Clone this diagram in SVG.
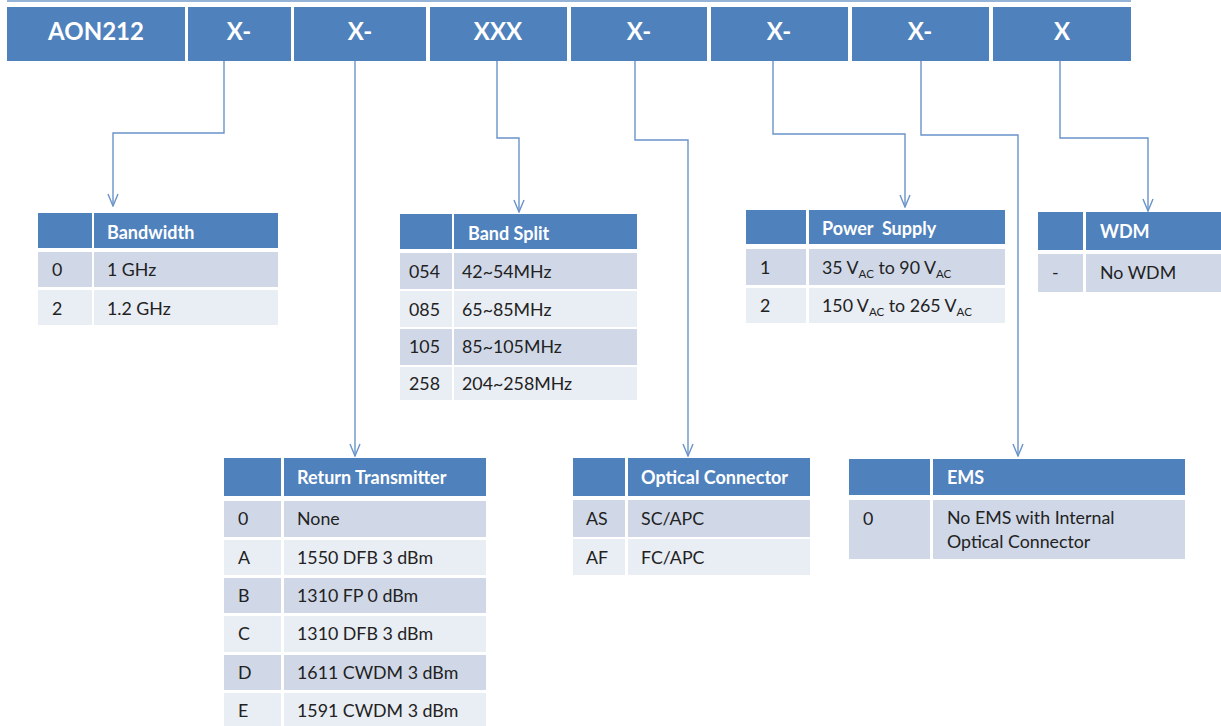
<svg xmlns="http://www.w3.org/2000/svg" width="1221" height="726" viewBox="0 0 1221 726">
<defs>
<style>
.bar{fill:#4F81BD}
.hd{fill:#4F81BD}
.r1{fill:#D0D8E8}
.r2{fill:#E9EDF4}
.bt{font-family:Lato,"Open Sans","Liberation Sans",sans-serif;font-weight:bold;font-size:24px;fill:#fff;text-anchor:middle}
.ht{font-family:Lato,"Open Sans","Liberation Sans",sans-serif;font-weight:bold;font-size:18px;fill:#fff}
.tt{font-family:Lato,"Open Sans","Liberation Sans",sans-serif;font-size:17.8px;fill:#222}
.sub{font-size:11.5px}
.con{fill:none;stroke:#6A93C9;stroke-width:1.4}
</style>
<marker id="arr" viewBox="0 0 14 12" refX="13" refY="6" markerWidth="14" markerHeight="12" markerUnits="userSpaceOnUse" orient="auto">
<path d="M1,1 L13,6 L1,11" fill="none" stroke="#6A93C9" stroke-width="1.4"/>
</marker>
</defs>
<rect width="1221" height="726" fill="#fff"/>
<line x1="7" y1="1" x2="1131" y2="1" stroke="#95B3D7" stroke-width="2"/>
<g id="bar">
<rect class="bar" x="7" y="7" width="178" height="54"/>
<rect class="bar" x="188" y="7" width="103" height="54"/>
<rect class="bar" x="294" y="7" width="132" height="54"/>
<rect class="bar" x="430" y="7" width="137" height="54"/>
<rect class="bar" x="571" y="7" width="136" height="54"/>
<rect class="bar" x="711" y="7" width="137" height="54"/>
<rect class="bar" x="852" y="7" width="137" height="54"/>
<rect class="bar" x="993" y="7" width="138" height="54"/>
<text class="bt" x="96" y="40">AON212</text>
<text class="bt" x="239" y="40">X-</text>
<text class="bt" x="360" y="40">X-</text>
<text class="bt" x="498" y="40">XXX</text>
<text class="bt" x="639" y="40">X-</text>
<text class="bt" x="779" y="40">X-</text>
<text class="bt" x="920" y="40">X-</text>
<text class="bt" x="1062" y="40">X</text>
</g>
<g id="connectors">
<path class="con" d="M224,61 V133 H113 V206" marker-end="url(#arr)"/>
<path class="con" d="M355,61 V456" marker-end="url(#arr)"/>
<path class="con" d="M497,61 V138 H519 V212" marker-end="url(#arr)"/>
<path class="con" d="M635,61 V140 H688 V456" marker-end="url(#arr)"/>
<path class="con" d="M773,61 V134 H905 V207" marker-end="url(#arr)"/>
<path class="con" d="M921,61 V135 H1018 V456" marker-end="url(#arr)"/>
<path class="con" d="M1060,61 V138 H1148 V211" marker-end="url(#arr)"/>
</g>
<g id="bandwidth">
<rect class="hd" x="38" y="213" width="54" height="35"/>
<rect class="hd" x="94" y="213" width="184" height="35"/>
<rect class="r1" x="38" y="252" width="54" height="35"/>
<rect class="r1" x="94" y="252" width="184" height="35"/>
<rect class="r2" x="38" y="290" width="54" height="35"/>
<rect class="r2" x="94" y="290" width="184" height="35"/>
<text class="ht" x="107" y="239">Bandwidth</text>
<text class="tt" x="52" y="276">0</text><text class="tt" x="107" y="276">1 GHz</text>
<text class="tt" x="52" y="315">2</text><text class="tt" x="107" y="315">1.2 GHz</text>
</g>
<g id="bandsplit">
<rect class="hd" x="400" y="214" width="52" height="35"/>
<rect class="hd" x="454" y="214" width="183" height="35"/>
<rect class="r1" x="400" y="253" width="52" height="36"/>
<rect class="r1" x="454" y="253" width="183" height="36"/>
<rect class="r2" x="400" y="291" width="52" height="36"/>
<rect class="r2" x="454" y="291" width="183" height="36"/>
<rect class="r1" x="400" y="329" width="52" height="36"/>
<rect class="r1" x="454" y="329" width="183" height="36"/>
<rect class="r2" x="400" y="367" width="52" height="33"/>
<rect class="r2" x="454" y="367" width="183" height="33"/>
<text class="ht" x="468" y="240">Band Split</text>
<text class="tt" x="409" y="278">054</text><text class="tt" x="462" y="278">42~54MHz</text>
<text class="tt" x="409" y="316">085</text><text class="tt" x="462" y="316">65~85MHz</text>
<text class="tt" x="409" y="353">105</text><text class="tt" x="462" y="353">85~105MHz</text>
<text class="tt" x="409" y="390">258</text><text class="tt" x="462" y="390">204~258MHz</text>
</g>
<g id="power">
<rect class="hd" x="746" y="210" width="60" height="34"/>
<rect class="hd" x="809" y="210" width="196" height="34"/>
<rect class="r1" x="746" y="249" width="60" height="36"/>
<rect class="r1" x="809" y="249" width="196" height="36"/>
<rect class="r2" x="746" y="288" width="60" height="35"/>
<rect class="r2" x="809" y="288" width="196" height="35"/>
<text class="ht" x="822" y="235" xml:space="preserve">Power  Supply</text>
<text class="tt" x="760" y="274">1</text>
<text class="tt" x="822" y="274">35 V<tspan class="sub" dy="4">AC</tspan><tspan dy="-4"> to 90 V</tspan><tspan class="sub" dy="4">AC</tspan></text>
<text class="tt" x="760" y="312">2</text>
<text class="tt" x="822" y="312">150 V<tspan class="sub" dy="4">AC</tspan><tspan dy="-4"> to 265 V</tspan><tspan class="sub" dy="4">AC</tspan></text>
</g>
<g id="wdm">
<rect class="hd" x="1038" y="212" width="45" height="38"/>
<rect class="hd" x="1086" y="212" width="135" height="38"/>
<rect class="r1" x="1038" y="254" width="45" height="38"/>
<rect class="r1" x="1086" y="254" width="135" height="38"/>
<text class="ht" x="1100" y="238">WDM</text>
<text class="tt" x="1052" y="279">-</text><text class="tt" x="1100" y="279">No WDM</text>
</g>
<g id="return">
<rect class="hd" x="224" y="458" width="57" height="38"/>
<rect class="hd" x="284" y="458" width="202" height="38"/>
<rect class="r1" x="224" y="501" width="57" height="36"/>
<rect class="r1" x="284" y="501" width="202" height="36"/>
<rect class="r2" x="224" y="540" width="57" height="35"/>
<rect class="r2" x="284" y="540" width="202" height="35"/>
<rect class="r1" x="224" y="578" width="57" height="35"/>
<rect class="r1" x="284" y="578" width="202" height="35"/>
<rect class="r2" x="224" y="616" width="57" height="36"/>
<rect class="r2" x="284" y="616" width="202" height="36"/>
<rect class="r1" x="224" y="655" width="57" height="35"/>
<rect class="r1" x="284" y="655" width="202" height="35"/>
<rect class="r2" x="224" y="693" width="57" height="33"/>
<rect class="r2" x="284" y="693" width="202" height="33"/>
<text class="ht" x="297" y="484">Return Transmitter</text>
<text class="tt" x="238" y="525">0</text><text class="tt" x="297" y="525">None</text>
<text class="tt" x="238" y="564">A</text><text class="tt" x="297" y="564">1550 DFB 3 dBm</text>
<text class="tt" x="238" y="602">B</text><text class="tt" x="297" y="602">1310 FP 0 dBm</text>
<text class="tt" x="238" y="640">C</text><text class="tt" x="297" y="640">1310 DFB 3 dBm</text>
<text class="tt" x="238" y="679">D</text><text class="tt" x="297" y="679">1611 CWDM 3 dBm</text>
<text class="tt" x="238" y="717">E</text><text class="tt" x="297" y="717">1591 CWDM 3 dBm</text>
</g>
<g id="optical">
<rect class="hd" x="573" y="458" width="52" height="38"/>
<rect class="hd" x="628" y="458" width="182" height="38"/>
<rect class="r1" x="573" y="500" width="52" height="37"/>
<rect class="r1" x="628" y="500" width="182" height="37"/>
<rect class="r2" x="573" y="539" width="52" height="36"/>
<rect class="r2" x="628" y="539" width="182" height="36"/>
<text class="ht" x="641" y="484">Optical Connector</text>
<text class="tt" x="586" y="525">AS</text><text class="tt" x="641" y="525">SC/APC</text>
<text class="tt" x="586" y="564">AF</text><text class="tt" x="641" y="564">FC/APC</text>
</g>
<g id="ems">
<rect class="hd" x="849" y="459" width="81" height="36"/>
<rect class="hd" x="933" y="459" width="252" height="36"/>
<rect class="r1" x="849" y="500" width="81" height="59"/>
<rect class="r1" x="933" y="500" width="252" height="59"/>
<text class="ht" x="947" y="484">EMS</text>
<text class="tt" x="863" y="525">0</text>
<text class="tt" x="947" y="524">No EMS with Internal</text>
<text class="tt" x="947" y="548">Optical Connector</text>
</g>
</svg>
